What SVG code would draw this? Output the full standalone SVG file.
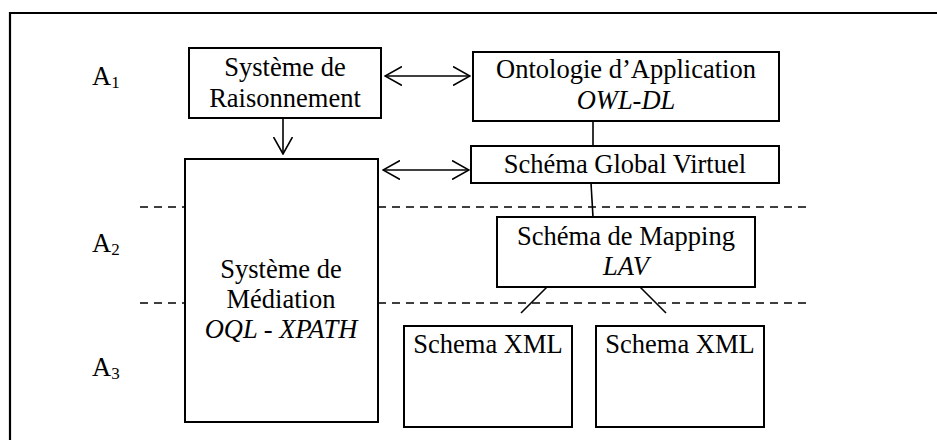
<svg xmlns="http://www.w3.org/2000/svg" width="937" height="440" viewBox="0 0 937 440">
<defs>
<style>
text{font-family:"Liberation Serif","Times New Roman",serif;font-size:26.5px;fill:#000;text-anchor:middle}
.it{font-style:italic}
.lbl{text-anchor:start}
.box{fill:#fff;stroke:#000;stroke-width:2}
.ln{stroke:#000;stroke-width:1.6;fill:none}
.dash{stroke:#000;stroke-width:1.6;stroke-dasharray:8 6;fill:none}
</style>
<marker id="ah" viewBox="0 0 18 20" refX="17" refY="10" markerWidth="18" markerHeight="20" markerUnits="userSpaceOnUse" orient="auto-start-reverse">
<path d="M0,0.5 L17,10 L0,19.5" fill="none" stroke="#000" stroke-width="1.6"/>
</marker>
</defs>
<rect width="937" height="440" fill="#fff"/>
<g id="frame">
<path d="M10,440 V13 H937" fill="none" stroke="#000" stroke-width="2.2"/>
</g>
<g id="layers">
<path class="dash" d="M140,207 H806"/>
<path class="dash" d="M140,303 H806"/>
<text class="lbl" x="92" y="85">A<tspan font-size="17" dy="3">1</tspan></text>
<text class="lbl" x="92" y="252">A<tspan font-size="17" dy="3">2</tspan></text>
<text class="lbl" x="92" y="376">A<tspan font-size="17" dy="3">3</tspan></text>
</g>
<g id="connectors">
<path class="ln" d="M283,118 V154" marker-end="url(#ah)"/>
<path class="ln" d="M385,76 H470" marker-start="url(#ah)" marker-end="url(#ah)"/>
<path class="ln" d="M383,170 H469" marker-start="url(#ah)" marker-end="url(#ah)"/>
<path class="ln" d="M593,121 V146"/>
<path class="ln" d="M591,183 L593,217"/>
<path class="ln" d="M547,287 L521,313"/>
<path class="ln" d="M640,287 L666,313"/>
</g>
<g id="raisonnement">
<rect class="box" x="189" y="48" width="192" height="70"/>
<text x="285" y="76">Système de</text>
<text x="285" y="107">Raisonnement</text>
</g>
<g id="mediation">
<rect class="box" x="185" y="159" width="193" height="263"/>
<text x="281" y="278">Système de</text>
<text x="281" y="308">Médiation</text>
<text class="it" x="281" y="338">OQL - XPATH</text>
</g>
<g id="ontologie">
<rect class="box" x="473" y="52" width="306" height="69"/>
<text x="626" y="78">Ontologie d’Application</text>
<text class="it" x="626" y="109">OWL-DL</text>
</g>
<g id="global">
<rect class="box" x="471" y="146" width="308" height="37"/>
<text x="625" y="173">Schéma Global Virtuel</text>
</g>
<g id="mapping">
<rect class="box" x="497" y="217" width="258" height="70"/>
<text x="626" y="245">Schéma de Mapping</text>
<text class="it" x="626" y="275">LAV</text>
</g>
<g id="xml1">
<rect class="box" x="404" y="326" width="168" height="101"/>
<text x="488" y="353">Schema XML</text>
</g>
<g id="xml2">
<rect class="box" x="596" y="326" width="168" height="101"/>
<text x="680" y="353">Schema XML</text>
</g>
</svg>
